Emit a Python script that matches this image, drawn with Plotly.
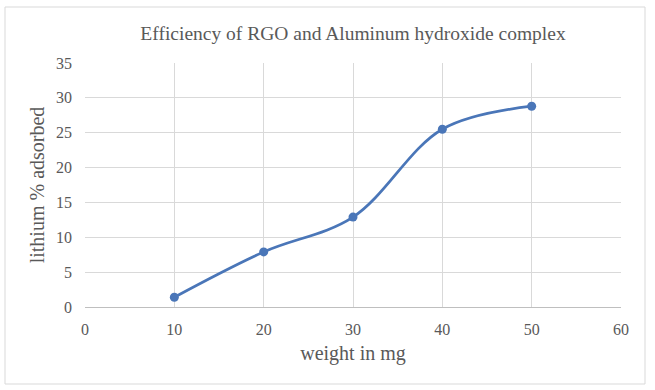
import plotly.graph_objects as go

weight_mg = [10, 20, 30, 40, 50]
lithium_pct = [1.4, 7.9, 12.9, 25.5, 28.8]
x_ticks = [0, 10, 20, 30, 40, 50, 60]
y_ticks = [0, 5, 10, 15, 20, 25, 30, 35]

title_text = "Efficiency of RGO and Aluminum hydroxide complex"
x_title = "weight in mg"
y_title = "lithium % adsorbed"

FONT = "Liberation Serif, Times New Roman, serif"
TXT = "#595959"
LINE = "#4a76b8"

fig = go.Figure()
fig.add_trace(go.Scatter(
    x=weight_mg, y=lithium_pct, mode="lines+markers",
    line=dict(color=LINE, width=2.75, shape="spline", smoothing=1.0),
    marker=dict(color=LINE, size=9, symbol="circle"),
    showlegend=False, hoverinfo="x+y",
))

fig.update_layout(
    width=655, height=390,
    margin=dict(l=85, r=34, t=63, b=83),
    paper_bgcolor="white", plot_bgcolor="white",
    font=dict(family=FONT, color=TXT, size=16),
    title=dict(text=title_text, x=0.5, xref="paper", y=1 - 33 / 390, yanchor="middle",
               font=dict(family=FONT, size=19.5, color=TXT)),
    xaxis=dict(range=[0, 60], tickvals=x_ticks, showgrid=True, gridcolor="#d9d9d9", gridwidth=1,
               zeroline=False, showline=True, linecolor="#bfbfbf", linewidth=1,
               ticks="", ticklabelstandoff=8, tickfont=dict(size=16, color=TXT), fixedrange=True,
               title=dict(text=x_title, font=dict(size=20, color=TXT), standoff=8)),
    yaxis=dict(range=[0, 35], tickvals=y_ticks, showgrid=True, gridcolor="#d9d9d9", gridwidth=1,
               zeroline=False, showline=False, ticks="", ticklabelstandoff=12,
               tickfont=dict(size=16, color=TXT), fixedrange=True,
               title=dict(text=y_title, font=dict(size=20, color=TXT), standoff=6)),
    shapes=[dict(type="rect", xref="paper", yref="paper",
                 x0=(5 - 85) / 536, x1=(645 - 85) / 536,
                 y0=(307 - 384) / 244, y1=(307 - 7) / 244,
                 line=dict(color="#d9d9d9", width=1), fillcolor="rgba(0,0,0,0)", layer="below")],
)

fig.write_html("out.html", config={"displayModeBar": False},
               post_script="document.body.style.margin='0';document.body.style.overflow='hidden';")
